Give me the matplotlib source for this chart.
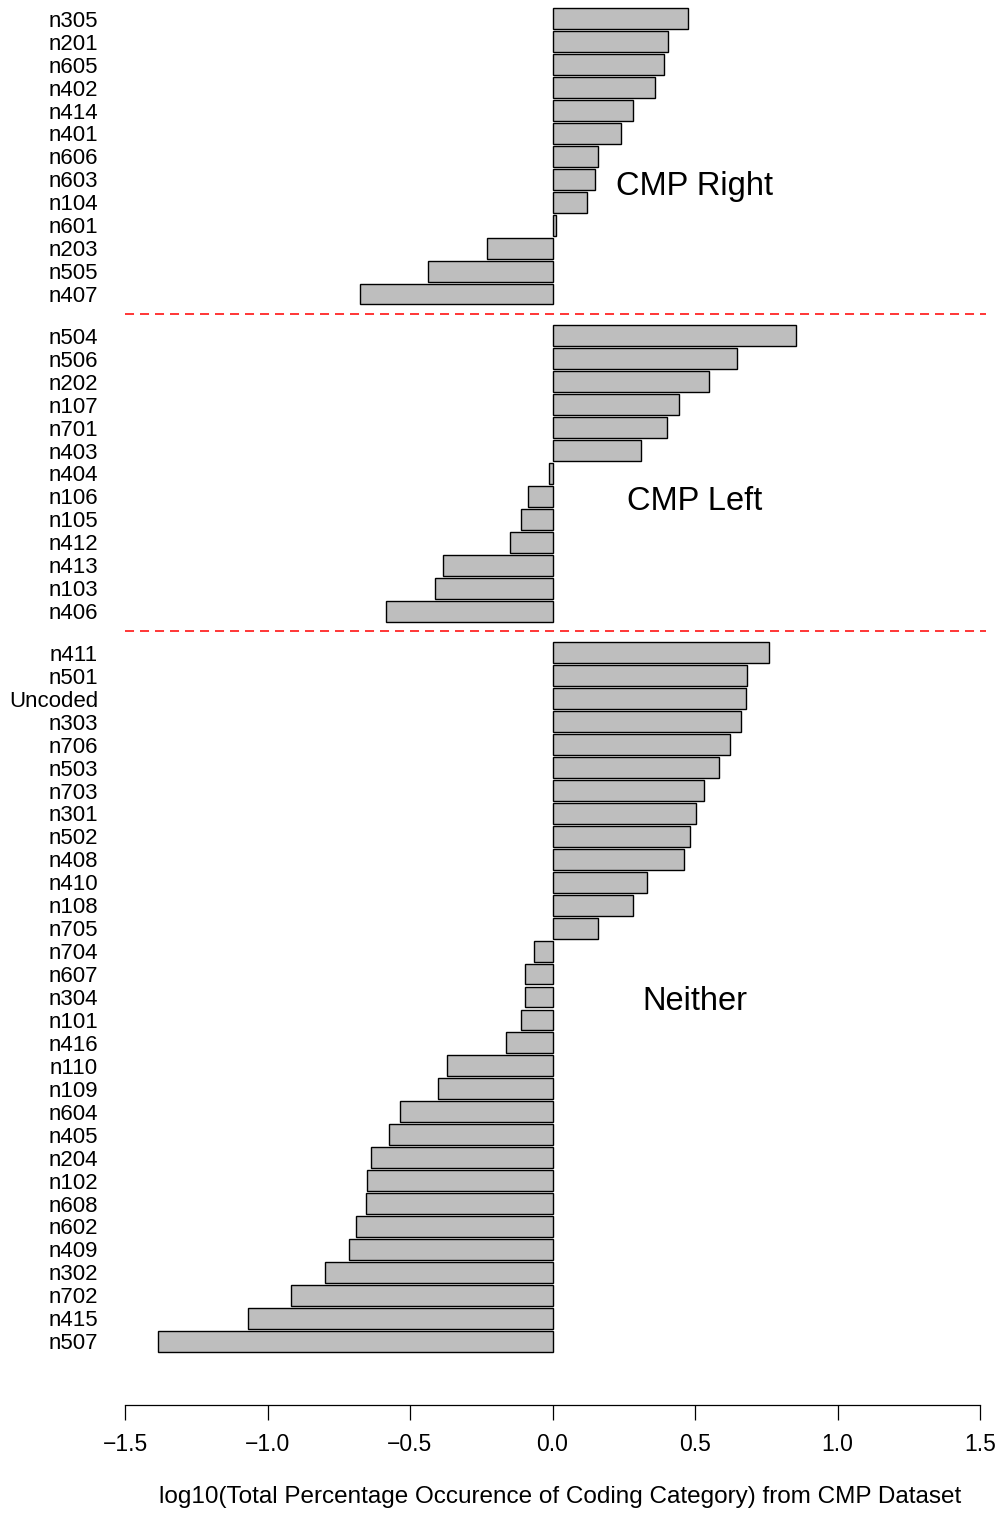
import numpy as np
import matplotlib
matplotlib.use("Agg")
import matplotlib.pyplot as plt

plt.rcParams['font.family'] = ['Liberation Sans', 'DejaVu Sans']
plt.rcParams['lines.scale_dashes'] = False

# coding categories per group, listed top to bottom
right_codes = ["n305", "n201", "n605", "n402", "n414", "n401", "n606",
               "n603", "n104", "n601", "n203", "n505", "n407"]
right_vals = [0.476, 0.407, 0.391, 0.360, 0.282, 0.241, 0.159,
              0.150, 0.121, 0.013, -0.230, -0.438, -0.677]

left_codes = ["n504", "n506", "n202", "n107", "n701", "n403", "n404",
              "n106", "n105", "n412", "n413", "n103", "n406"]
left_vals = [0.856, 0.648, 0.548, 0.445, 0.400, 0.311, -0.013,
             -0.085, -0.112, -0.150, -0.385, -0.414, -0.583]

neither_codes = ["n411", "n501", "Uncoded", "n303", "n706", "n503", "n703",
                 "n301", "n502", "n408", "n410", "n108", "n705", "n704",
                 "n607", "n304", "n101", "n416", "n110", "n109", "n604",
                 "n405", "n204", "n102", "n608", "n602", "n409", "n302",
                 "n702", "n415", "n507"]
neither_vals = [0.758, 0.684, 0.680, 0.662, 0.624, 0.583, 0.532,
                0.503, 0.483, 0.463, 0.331, 0.284, 0.159, -0.065,
                -0.096, -0.098, -0.112, -0.163, -0.369, -0.402, -0.534,
                -0.575, -0.637, -0.651, -0.655, -0.689, -0.715, -0.800,
                -0.917, -1.069, -1.384]

group_names = ["CMP Right", "CMP Left", "Neither"]
group_text_y = [8.95, 24.05, 48.02]

groups = [(right_codes, right_vals), (left_codes, left_vals),
          (neither_codes, neither_vals)]

# bar positions: small space inside a group, one bar width between groups
pos, names, vals, seps = [], [], [], []
y = 0.5
for gi, (codes, v) in enumerate(groups):
    if gi > 0:
        seps.append(y - 1.05)
    for c, val in zip(codes, v):
        pos.append(y)
        names.append(c)
        vals.append(val)
        y += 1.1
    y += 0.9

fig = plt.figure(figsize=(10, 15.13), dpi=100)
ax = fig.add_axes([0.125, 108 / 1513, 0.855, 1405 / 1513])

ax.barh(pos, vals, height=1.0, color="#bebebe", edgecolor="black", linewidth=1.0)

for s in seps:
    ax.plot([-1.5, 1.52], [s, s], color="red", linewidth=1.1,
            dashes=(6.5, 4.3), clip_on=False)

for name, ty in zip(group_names, group_text_y):
    ax.text(0.5, ty, name, ha="center", va="baseline", fontsize=23.5)

ax.set_xlim(-1.5, 1.5)
ax.set_ylim(66.96, -0.398)
ax.set_yticks(pos)
ax.set_yticklabels(names, fontsize=16)
ax.tick_params(axis="y", length=0, pad=19.5)
ax.set_xticks([-1.5, -1.0, -0.5, 0.0, 0.5, 1.0, 1.5])
ax.set_xticklabels(["\u22121.5", "\u22121.0", "\u22120.5", "0.0", "0.5", "1.0", "1.5"],
                   fontsize=16.5)
ax.tick_params(axis="x", length=11, width=0.9, pad=9)
for side in ["top", "right", "left"]:
    ax.spines[side].set_visible(False)
ax.spines["bottom"].set_linewidth(0.9)

fig.text(0.56, 1 - 1497 / 1513,
         "log10(Total Percentage Occurence of Coding Category) from CMP Dataset",
         ha="center", va="center", fontsize=17.5)

fig.savefig("out.png", dpi=100)
